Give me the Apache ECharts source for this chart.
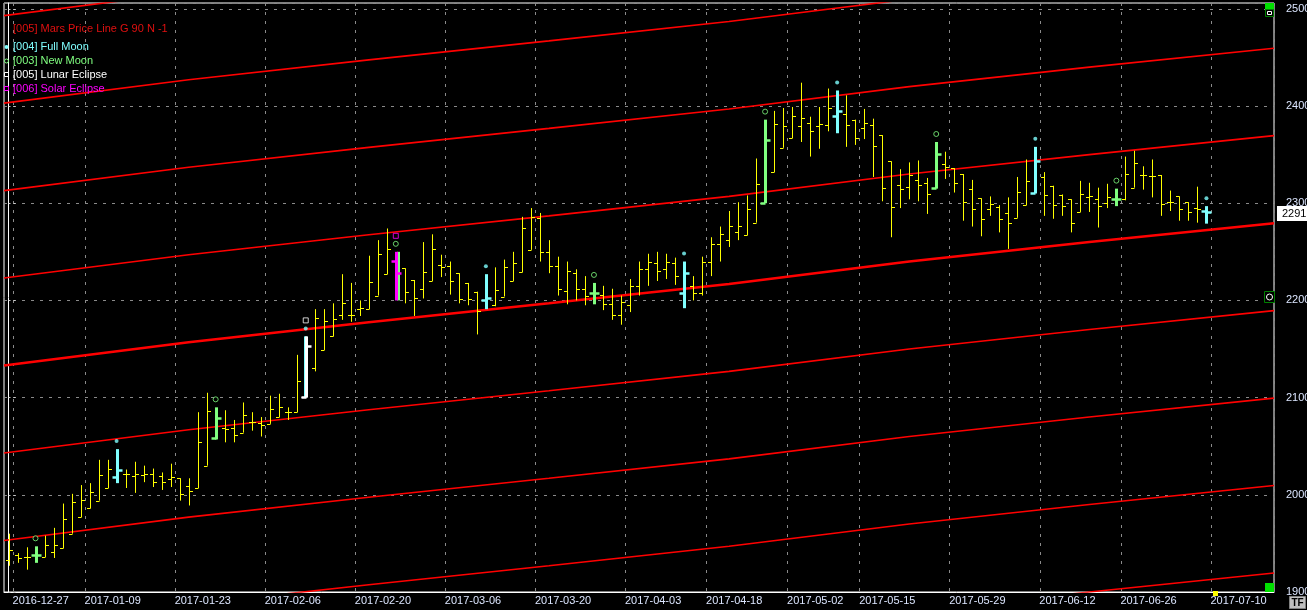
<!DOCTYPE html>
<html>
<head>
<meta charset="utf-8">
<script src="https://cdn.jsdelivr.net/npm/echarts/dist/echarts.min.js"></script>
<style>
  html, body { margin: 0; padding: 0; background: #000; }
  #chart { width: 1307px; height: 610px; }
</style>
</head>
<body>
<div id="chart"></div>
<script>
// trading days on the axis (last 7 are empty future slots)
const dates = [
  '2016-12-23', '2016-12-27', '2016-12-28', '2016-12-29', '2016-12-30',
  '2017-01-03', '2017-01-04', '2017-01-05', '2017-01-06', '2017-01-09', '2017-01-10', '2017-01-11', '2017-01-12', '2017-01-13',
  '2017-01-16', '2017-01-17', '2017-01-18', '2017-01-19', '2017-01-20', '2017-01-23', '2017-01-24', '2017-01-25', '2017-01-26', '2017-01-27',
  '2017-01-30', '2017-01-31', '2017-02-01', '2017-02-02', '2017-02-03', '2017-02-06', '2017-02-07', '2017-02-08', '2017-02-09', '2017-02-10',
  '2017-02-13', '2017-02-14', '2017-02-15', '2017-02-16', '2017-02-17', '2017-02-20', '2017-02-21', '2017-02-22', '2017-02-23', '2017-02-24',
  '2017-02-27', '2017-02-28', '2017-03-01', '2017-03-02', '2017-03-03', '2017-03-06', '2017-03-07', '2017-03-08', '2017-03-09', '2017-03-10',
  '2017-03-13', '2017-03-14', '2017-03-15', '2017-03-16', '2017-03-17', '2017-03-20', '2017-03-21', '2017-03-22', '2017-03-23', '2017-03-24',
  '2017-03-27', '2017-03-28', '2017-03-29', '2017-03-30', '2017-03-31', '2017-04-03', '2017-04-04', '2017-04-05', '2017-04-06', '2017-04-07',
  '2017-04-10', '2017-04-11', '2017-04-12', '2017-04-13', '2017-04-18', '2017-04-19', '2017-04-20', '2017-04-21',
  '2017-04-24', '2017-04-25', '2017-04-26', '2017-04-27', '2017-04-28', '2017-05-02', '2017-05-03', '2017-05-04', '2017-05-05',
  '2017-05-09', '2017-05-10', '2017-05-11', '2017-05-12', '2017-05-15', '2017-05-16', '2017-05-17', '2017-05-18', '2017-05-19',
  '2017-05-22', '2017-05-23', '2017-05-24', '2017-05-25', '2017-05-26', '2017-05-29', '2017-05-30', '2017-05-31', '2017-06-01', '2017-06-02',
  '2017-06-05', '2017-06-06', '2017-06-07', '2017-06-08', '2017-06-09', '2017-06-12', '2017-06-13', '2017-06-14', '2017-06-16',
  '2017-06-19', '2017-06-20', '2017-06-21', '2017-06-22', '2017-06-23', '2017-06-26', '2017-06-27', '2017-06-28', '2017-06-29', '2017-06-30',
  '2017-07-03', '2017-07-04', '2017-07-05', '2017-07-06', '2017-07-07',
  '2017-07-10', '2017-07-11', '2017-07-12', '2017-07-13', '2017-07-14', '2017-07-17', '2017-07-18'
];
const labelDates = ['2016-12-27', '2017-01-09', '2017-01-23', '2017-02-06', '2017-02-20', '2017-03-06', '2017-03-20',
  '2017-04-03', '2017-04-18', '2017-05-02', '2017-05-15', '2017-05-29', '2017-06-12', '2017-06-26', '2017-07-10'];

// OHLC, one value per traded day
const opens = [
  1933, 1938, 1936, 1938, 1936, 1941, 1945, 1960, 1977, 1986, 1994, 2007, 2018, 2021, 2019, 2020, 2021, 2019, 2016, 2017,
  2009, 2007, 2030, 2058, 2069, 2069, 2064, 2075, 2074, 2073, 2080, 2085, 2085, 2101, 2130, 2149, 2163, 2185, 2185, 2191,
  2191, 2205, 2227, 2241, 2233, 2221, 2212, 2220, 2236, 2235, 2228, 2218, 2209, 2200, 2195, 2204, 2220, 2229, 2252, 2285,
  2250, 2235, 2210, 2228, 2212, 2208, 2206, 2196, 2185, 2195, 2215, 2232, 2238, 2232, 2238, 2208, 2215, 2208, 2240, 2258,
  2262, 2270, 2267, 2280, 2300, 2332, 2357, 2367, 2379, 2383, 2379, 2380, 2390, 2392, 2386, 2377, 2380, 2370, 2343, 2319,
  2317, 2324, 2321, 2316, 2340, 2336, 2330, 2315, 2305, 2294, 2296, 2290, 2285, 2298, 2311, 2327, 2318, 2308, 2304, 2291,
  2306, 2304, 2300, 2304, 2304, 2316, 2329, 2328, 2329, 2301, 2307, 2301, 2295, 2292
];
const highs = [
  1960, 1940, 1946, 1947, 1958, 1966, 1991, 2001, 2010, 2012, 2036, 2036, 2047, 2026, 2034, 2030, 2027, 2023, 2032, 2017,
  2017, 2085, 2105, 2090, 2087, 2077, 2095, 2085, 2080, 2102, 2104, 2090, 2144, 2163, 2191, 2191, 2197, 2227, 2218, 2200,
  2246, 2262, 2274, 2250, 2233, 2221, 2260, 2268, 2247, 2240, 2228, 2218, 2209, 2227, 2234, 2242, 2250, 2286, 2295, 2290,
  2262, 2245, 2240, 2232, 2225, 2218, 2215, 2212, 2205, 2222, 2240, 2248, 2250, 2248, 2244, 2240, 2225, 2245, 2265, 2276,
  2292, 2301, 2308, 2346, 2386, 2395, 2398, 2399, 2424, 2389, 2399, 2418, 2416, 2411, 2386, 2397, 2387, 2370, 2343, 2335,
  2342, 2344, 2326, 2363, 2353, 2336, 2330, 2324, 2305, 2307, 2298, 2306, 2327, 2345, 2358, 2332, 2318, 2309, 2304, 2323,
  2321, 2316, 2320, 2315, 2348, 2354, 2338, 2345, 2329, 2313, 2307, 2301, 2317, 2297
];
const lows = [
  1927, 1930, 1923, 1930, 1936, 1935, 1945, 1960, 1977, 1986, 1994, 2007, 2012, 2007, 2002, 2013, 2008, 2005, 2008, 1994,
  1989, 2007, 2030, 2057, 2054, 2054, 2064, 2066, 2060, 2073, 2080, 2077, 2085, 2100, 2127, 2149, 2163, 2180, 2178, 2184,
  2191, 2205, 2227, 2200, 2197, 2184, 2202, 2220, 2224, 2206, 2197, 2195, 2165, 2191, 2194, 2204, 2220, 2229, 2252, 2240,
  2228, 2205, 2196, 2200, 2195, 2196, 2190, 2180, 2175, 2188, 2205, 2215, 2220, 2222, 2216, 2192, 2200, 2205, 2225, 2240,
  2255, 2262, 2267, 2280, 2300, 2332, 2357, 2367, 2363, 2348, 2356, 2374, 2372, 2358, 2360, 2366, 2327, 2302, 2265, 2295,
  2304, 2302, 2289, 2315, 2325, 2311, 2282, 2276, 2266, 2287, 2270, 2253, 2285, 2298, 2310, 2287, 2284, 2287, 2270, 2291,
  2291, 2275, 2295, 2297, 2303, 2316, 2314, 2306, 2287, 2292, 2282, 2282, 2280, 2279
];
const closes = [
  1943, 1935, 1936, 1938, 1948, 1948, 1975, 1993, 1995, 2003, 2020, 2027, 2026, 2021, 2021, 2021, 2013, 2013, 2018, 2001,
  2004, 2054, 2086, 2079, 2068, 2062, 2082, 2075, 2072, 2088, 2090, 2085, 2117, 2153, 2182, 2179, 2181, 2197, 2185, 2192,
  2219, 2248, 2253, 2228, 2209, 2203, 2229, 2253, 2234, 2220, 2201, 2201, 2189, 2202, 2211, 2234, 2239, 2274, 2286, 2250,
  2235, 2212, 2230, 2212, 2205, 2208, 2196, 2185, 2198, 2215, 2232, 2240, 2230, 2240, 2225, 2228, 2208, 2240, 2258, 2268,
  2277, 2277, 2294, 2320, 2365, 2381, 2379, 2390, 2388, 2374, 2382, 2398, 2395, 2380, 2367, 2383, 2359, 2316, 2296, 2315,
  2329, 2319, 2310, 2351, 2337, 2321, 2301, 2294, 2284, 2299, 2284, 2280, 2312, 2323, 2343, 2308, 2298, 2297, 2280, 2310,
  2307, 2297, 2306, 2304, 2330, 2341, 2329, 2328, 2299, 2301, 2294, 2291, 2294, 2291
];

const fullMoonDates = ['2017-01-12', '2017-02-10', '2017-03-10', '2017-04-11', '2017-05-10', '2017-06-09', '2017-07-07'];
const newMoonDates = ['2016-12-29', '2017-01-27', '2017-02-24', '2017-03-28', '2017-04-26', '2017-05-25', '2017-06-23'];
const lunarEclipseDates = ['2017-02-10'];
const solarEclipseDates = ['2017-02-24'];

// Mars price line: base level read at a few bar positions, lines repeat every 90
const marsPos = [-0.5, 20, 40, 60, 80, 100, 120, 140.5];
const marsBase = [2133, 2157, 2177.5, 2197, 2217, 2240, 2260, 2279.5];
const marsOffsets = [-360, -270, -180, -90, 0, 90, 180, 270, 360];

const lastPrice = 2291;

const YELLOW = '#ffff00', CYAN = '#80ffff', GREEN = '#80ff80', MAGENTA = '#ff00ff', WHITE = '#ffffff';
const FONT = '"Liberation Sans", Arial, sans-serif';

const ohlc = opens.map((o, i) => [i, o, highs[i], lows[i], closes[i]]);

function barColors(d) {
  if (solarEclipseDates.includes(d)) return [MAGENTA, GREEN];
  if (lunarEclipseDates.includes(d)) return [WHITE, CYAN];
  if (fullMoonDates.includes(d)) return [CYAN, null];
  if (newMoonDates.includes(d)) return [GREEN, null];
  return [YELLOW, null];
}

function renderOhlc(params, api) {
  const i = api.value(0);
  const [color, under] = barColors(dates[i]);
  const special = color !== YELLOW;
  const x = Math.round(api.coord([i, 0])[0]) + 0.5;
  const yo = api.coord([i, api.value(1)])[1];
  const yh = api.coord([i, api.value(2)])[1];
  const yl = api.coord([i, api.value(3)])[1];
  const yc = api.coord([i, api.value(4)])[1];
  const w = special ? 3 : 1;
  const t = special ? 5 : 3.5;
  const kids = [];
  if (under) {
    const dx = color === MAGENTA ? 2 : -1;
    kids.push({ type: 'line', shape: { x1: x + dx, y1: yh, x2: x + dx, y2: yl }, style: { stroke: under, lineWidth: w } });
  }
  kids.push({ type: 'line', shape: { x1: x, y1: yh, x2: x, y2: yl }, style: { stroke: color, lineWidth: w } });
  kids.push({ type: 'line', shape: { x1: x - t, y1: Math.round(yo) + 0.5, x2: x, y2: Math.round(yo) + 0.5 }, style: { stroke: color, lineWidth: special ? 2.5 : 1 } });
  kids.push({ type: 'line', shape: { x1: x, y1: Math.round(yc) + 0.5, x2: x + t, y2: Math.round(yc) + 0.5 }, style: { stroke: color, lineWidth: special ? 2.5 : 1 } });
  return { type: 'group', children: kids };
}

const showLabel = (idx, val) => labelDates.includes(val);
const markAt = (list) => list.map(d => [d, highs[dates.indexOf(d)]]);

const marsSeries = marsOffsets.map(off => ({
  type: 'line',
  xAxisIndex: 1,
  data: marsPos.map((p, k) => [p, marsBase[k] + off]),
  symbol: 'none',
  silent: true,
  z: 1,
  lineStyle: { color: '#ff0000', width: off === 0 ? 2.5 : 1.6 }
}));

const chart = echarts.init(document.getElementById('chart'));
chart.setOption({
  animation: false,
  backgroundColor: '#000',
  grid: { left: 4, right: 33, top: 3, bottom: 18, show: true, borderColor: '#ffffff', borderWidth: 1, outerBoundsMode: 'none' },
  xAxis: [{
    type: 'category',
    data: dates,
    boundaryGap: true,
    axisLine: { lineStyle: { color: '#ffffff' } },
    axisTick: { show: false, interval: showLabel },
    axisLabel: { interval: showLabel, color: '#dce6ff', fontSize: 11, fontFamily: FONT, margin: 3, align: 'left', padding: [0, 0, 0, -5] },
    splitLine: { show: true, interval: showLabel, lineStyle: { color: '#8a8a8a', type: [3, 6] } }
  }, {
    type: 'value', min: -0.5, max: 140.5, show: false
  }],
  yAxis: {
    type: 'value',
    position: 'right',
    min: 1900, max: 2506, interval: 100,
    axisLine: { show: true, lineStyle: { color: '#ffffff' } },
    axisTick: { show: true, length: 8, lineStyle: { color: '#cccccc', type: [2, 3] } },
    axisLabel: { color: '#dce6ff', fontSize: 11, fontFamily: FONT, margin: 12, showMaxLabel: false,
      formatter: v => (v % 100 === 0 ? String(v) : '') },
    splitLine: { show: true, lineStyle: { color: '#8a8a8a', type: [3, 6] } }
  },
  series: [
    ...marsSeries,
    { type: 'custom', name: 'Price', data: ohlc, renderItem: renderOhlc, encode: { x: 0, y: [1, 2, 3, 4] }, z: 3, silent: true },
    { type: 'scatter', name: 'Full Moon', data: markAt(fullMoonDates), symbol: 'circle', symbolSize: 4, symbolOffset: [0, -8],
      itemStyle: { color: CYAN }, z: 4 },
    { type: 'scatter', name: 'New Moon', data: markAt(newMoonDates), symbol: 'circle', symbolSize: 5, symbolOffset: [0, -8],
      itemStyle: { color: '#000', borderColor: GREEN, borderWidth: 1 }, z: 4 },
    { type: 'scatter', name: 'Lunar Eclipse', data: markAt(lunarEclipseDates), symbol: 'rect', symbolSize: 5, symbolOffset: [0, -16],
      itemStyle: { color: '#000', borderColor: WHITE, borderWidth: 1 }, z: 4 },
    { type: 'scatter', name: 'Solar Eclipse', data: markAt(solarEclipseDates), symbol: 'rect', symbolSize: 5, symbolOffset: [0, -16],
      itemStyle: { color: '#000', borderColor: MAGENTA, borderWidth: 1 }, z: 4 }
  ]
});

// legend, last price tag and the small panel widgets
const lastY = chart.convertToPixel({ yAxisIndex: 0 }, lastPrice);
const legendText = (txt, y, color) => ({ type: 'text', x: 13, y: y, z: 20,
  style: { text: txt, fill: color, font: '11px ' + FONT, verticalAlign: 'middle' } });
chart.setOption({
  graphic: [
    legendText('[005] Mars Price Line G 90 N -1', 29, '#e01010'),
    legendText('[004] Full Moon', 47, CYAN),
    legendText('[003] New Moon', 61, GREEN),
    legendText('[005] Lunar Eclipse', 75, WHITE),
    legendText('[006] Solar Eclipse', 89, MAGENTA),
    { type: 'circle', z: 20, shape: { cx: 6.5, cy: 47, r: 2 }, style: { fill: CYAN } },
    { type: 'circle', z: 20, shape: { cx: 6.5, cy: 61, r: 2 }, style: { fill: 'none', stroke: GREEN, lineWidth: 1 } },
    { type: 'rect', z: 20, shape: { x: 4.5, y: 72.5, width: 4, height: 4 }, style: { fill: 'none', stroke: WHITE, lineWidth: 1 } },
    { type: 'rect', z: 20, shape: { x: 4.5, y: 86.5, width: 4, height: 4 }, style: { fill: 'none', stroke: MAGENTA, lineWidth: 1 } },
    { type: 'rect', z: 20, shape: { x: 1277, y: Math.round(lastY) - 6, width: 30, height: 15 }, style: { fill: '#ffffff' } },
    { type: 'text', z: 21, x: 1282, y: Math.round(lastY) + 1.5,
      style: { text: String(lastPrice), fill: '#000', font: '11px ' + FONT, verticalAlign: 'middle' } },
    { type: 'rect', z: 20, shape: { x: 1265, y: 3, width: 9, height: 7 }, style: { fill: '#00e000' } },
    { type: 'rect', z: 20, shape: { x: 1265.5, y: 9.5, width: 8, height: 7 }, style: { fill: '#000', stroke: '#008000' } },
    { type: 'rect', z: 21, shape: { x: 1267.5, y: 11.5, width: 4, height: 3 }, style: { fill: 'none', stroke: '#fff' } },
    { type: 'rect', z: 20, shape: { x: 1264.5, y: 291.5, width: 10, height: 11 }, style: { fill: '#000', stroke: '#008000' } },
    { type: 'circle', z: 21, shape: { cx: 1269.5, cy: 297, r: 3 }, style: { fill: 'none', stroke: '#fff' } },
    { type: 'rect', z: 20, shape: { x: 1265, y: 583, width: 9, height: 9 }, style: { fill: '#00e000' } },
    { type: 'rect', z: 20, shape: { x: 1213, y: 591, width: 5, height: 5 }, style: { fill: '#ffff00' } },
    { type: 'rect', z: 20, shape: { x: 1289.5, y: 596.5, width: 16, height: 12 }, style: { fill: '#c0c0c0', stroke: '#808080' } },
    { type: 'text', z: 21, x: 1297.5, y: 603, style: { text: 'TF', fill: '#000', font: 'bold 10px ' + FONT, align: 'center', verticalAlign: 'middle' } }
  ]
});
</script>
</body>
</html>
